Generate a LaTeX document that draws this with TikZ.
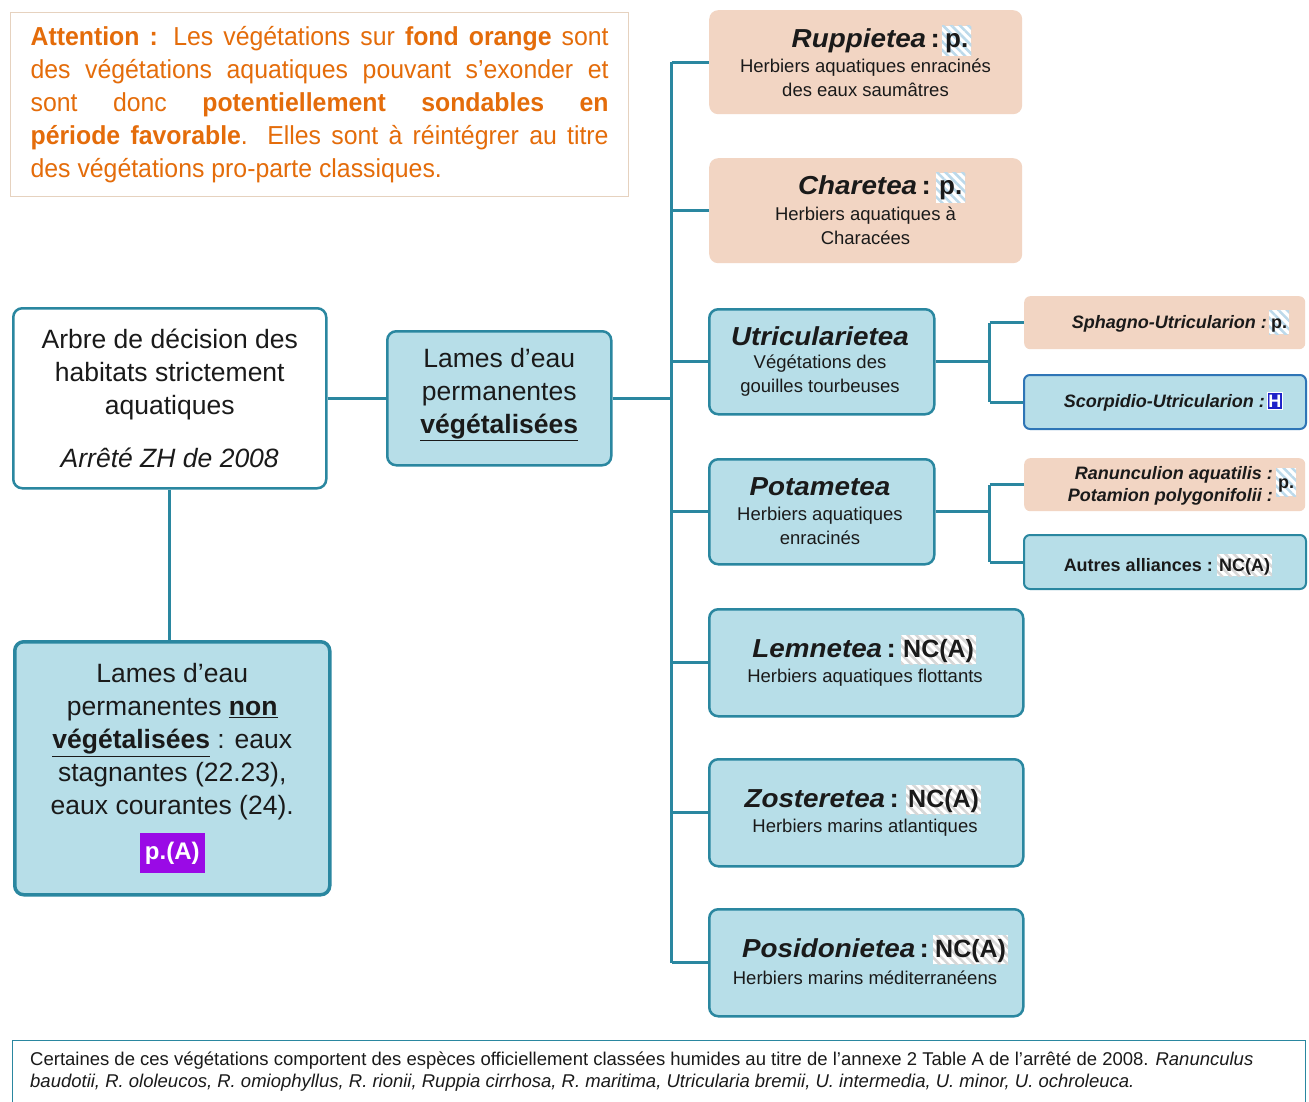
\documentclass[tikz,border=0pt]{standalone}
\usepackage{fontspec}
\setmainfont{Liberation Sans}
\newfontfamily\attfont[FakeStretch=0.955]{Liberation Sans}
\newfontfamily\ttlfont[FakeStretch=1.07]{Liberation Sans}
\usetikzlibrary{patterns.meta}
\definecolor{teal1}{HTML}{2A87A0}
\definecolor{lblue}{HTML}{B7DEE8}
\definecolor{peach}{HTML}{F2D5C3}
\definecolor{orng}{HTML}{E46C0A}
\definecolor{tanb}{HTML}{E6D2BF}
\definecolor{hatchb}{HTML}{BCD9EA}
\definecolor{hatchg}{HTML}{D6D6D6}
\definecolor{bluebd}{HTML}{2E75B6}
\definecolor{hblue}{HTML}{1E22C8}
\definecolor{purp}{HTML}{9A0AE6}
\definecolor{txt}{HTML}{1A1A1A}
\tikzset{
 box/.style={rounded corners=9pt, inner sep=0pt, anchor=north west},
 bluebox/.style={box, draw=teal1, line width=2.5pt, fill=lblue},
 peachbox/.style={box, fill=peach},
 conn/.style={draw=teal1, line width=3pt},
 ttl/.style={font=\ttlfont\fontsize{26}{30}\selectfont\bfseries\itshape, inner sep=0pt, text=txt},
 sttl/.style={font=\fontsize{18}{22}\selectfont\bfseries\itshape, inner sep=0pt, text=txt, align=right},
 sub/.style={font=\fontsize{18.5}{24}\selectfont, align=center, inner sep=0pt, text=txt},
 big/.style={font=\fontsize{26.5}{33}\selectfont, align=center, text=txt},
 hatchp/.style={fill=white, postaction={pattern={Lines[angle=-45,distance=6pt,line width=2.5pt]}, pattern color=hatchb}},
 hatchn/.style={fill=white, postaction={pattern={Lines[angle=-45,distance=6pt,line width=2.5pt]}, pattern color=hatchg}},
 pbig/.style={hatchp, font=\fontsize{26}{30}\selectfont\bfseries, text=txt, inner xsep=3pt, inner ysep=0pt, text height=22pt, text depth=8pt, anchor=base west},
 nbig/.style={hatchn, font=\fontsize{25}{30}\selectfont\bfseries, text=txt, inner xsep=2pt, inner ysep=0pt, text height=22pt, text depth=7pt, anchor=base west},
 psmall/.style={hatchp, font=\fontsize{18}{22}\selectfont\bfseries, text=txt, inner xsep=2pt, inner ysep=0pt, text height=18pt, text depth=6pt, anchor=base west},
 nsmall/.style={hatchn, font=\fontsize{18}{22}\selectfont\bfseries, text=txt, inner xsep=2pt, inner ysep=0pt, text height=17pt, text depth=5pt, anchor=base west},
}
\begin{document}
\begin{tikzpicture}[x=1pt,y=-1pt]
\useasboundingbox[fill=white] (0,0) rectangle (1309,1102);

% attention box
\node[draw=tanb, line width=1.2pt, fill=white, anchor=north west, minimum width=618pt, minimum height=184pt,
  text width=578pt, inner xsep=20pt, align=justify, text=orng,
  font=\attfont\fontsize{26}{33}\selectfont] (att) at (10,12)
 {\hyphenpenalty=10000\relax\exhyphenpenalty=10000\relax
 \textbf{Attention :} Les végétations sur \textbf{fond orange} sont\linebreak des végétations aquatiques pouvant s’exonder et\linebreak sont donc \textbf{potentiellement sondables en}\linebreak \textbf{période favorable}. Elles sont à réintégrer au titre\linebreak des végétations pro-parte classiques.};

% left nodes
\node[box, draw=teal1, line width=2.5pt, fill=white, minimum width=313pt, minimum height=180pt, big] (root) at (12,307)
 {Arbre de décision des\\habitats strictement\\aquatiques\\[20pt]\textit{Arrêté ZH de 2008}};
\node[bluebox, minimum width=224pt, minimum height=134pt, big] (veg) at (386,330)
 {Lames d’eau\\permanentes\\\underline{\textbf{végétalisées}}\rule[-15pt]{0pt}{15pt}};
\node[bluebox, line width=3.5pt, minimum width=315pt, minimum height=253pt, big] (nonveg) at (13,640)
 {Lames d’eau\\permanentes \underline{\textbf{non}}\\\underline{\textbf{végétalisées}} : eaux\\stagnantes (22.23),\\eaux courantes (24).\\[12pt]
 {\setlength{\fboxsep}{5pt}\colorbox{purp}{\textcolor{white}{\fontsize{24}{28}\selectfont\bfseries\rule[-8pt]{0pt}{30pt}p.(A)}}}};

% class boxes
\node[peachbox, minimum width=313pt, minimum height=104pt] (rup) at (709,10) {};
\node[peachbox, minimum width=313pt, minimum height=105pt] (cha) at (709,158) {};
\node[bluebox, minimum width=225pt, minimum height=105pt] (utr) at (708,308) {};
\node[bluebox, minimum width=225pt, minimum height=105pt] (pot) at (708,458) {};
\node[bluebox, minimum width=314pt, minimum height=107pt] (lem) at (708,608) {};
\node[bluebox, minimum width=314pt, minimum height=107pt] (zos) at (708,758) {};
\node[bluebox, minimum width=314pt, minimum height=107pt] (pos) at (708,908) {};

% alliance boxes
\node[peachbox, rounded corners=6pt, minimum width=281pt, minimum height=53pt] (sph) at (1024,296) {};
\node[box, rounded corners=6pt, draw=bluebd, line width=2pt, fill=lblue, minimum width=282pt, minimum height=54pt] (sco) at (1023,374) {};
\node[peachbox, rounded corners=6pt, minimum width=281pt, minimum height=53pt] (ran) at (1024,458) {};
\node[box, rounded corners=6pt, draw=teal1, line width=2pt, fill=lblue, minimum width=282pt, minimum height=54pt] (aut) at (1023,534) {};

% titles and badges
\node[ttl, anchor=base east] (rupT) at (940,48) {Ruppietea\,\upshape :};
\node[pbig] (rupB) at (942,48) {p.};
\node[sub] (rupS) at (865.5,78) {Herbiers aquatiques enracinés\\des eaux saumâtres};

\node[ttl, anchor=base east] (chaT) at (931,195) {Charetea\,\upshape :};
\node[pbig] (chaB) at (936,195) {p.};
\node[sub] (chaS) at (865.5,226) {Herbiers aquatiques à\\Characées};

\node[ttl, anchor=base] (utrT) at (820,345) {Utricularietea};
\node[sub] (utrS) at (820,376) {Végétations des\\gouilles tourbeuses};

\node[ttl, anchor=base] (potT) at (820,495) {Potametea};
\node[sub] (potS) at (820,526) {Herbiers aquatiques\\enracinés};

\node[ttl, anchor=base east] (lemT) at (896,657) {Lemnetea\,\upshape :};
\node[nbig] (lemB) at (901,657) {NC(A)};
\node[sub] (lemS) at (865,678) {Herbiers aquatiques flottants};

\node[ttl, anchor=base east] (zosT) at (899,807) {Zosteretea\,\upshape :};
\node[nbig] (zosB) at (906,807) {NC(A)};
\node[sub] (zosS) at (865,828) {Herbiers marins atlantiques};

\node[ttl, anchor=base east] (posT) at (929,957) {Posidonietea\,\upshape :};
\node[nbig] (posB) at (933,957) {NC(A)};
\node[sub] (posS) at (865,978) {Herbiers marins méditerranéens};

\node[sttl, anchor=base east] (sphT) at (1267,328) {Sphagno-Utricularion :};
\node[psmall] (sphB) at (1269,328) {p.};

\node[sttl, anchor=base east] (scoT) at (1265,407) {Scorpidio-Utricularion :};
\node[font=\fontsize{18}{22}\selectfont\bfseries, text=white, fill=hblue, draw=white, line width=0.6pt, inner xsep=1pt, inner ysep=0pt, text height=15pt, text depth=2pt, anchor=base west] (scoB) at (1267,407) {H};

\node[sttl, anchor=east] (ranT) at (1273,486) {Ranunculion aquatilis :\\Potamion polygonifolii :};
\node[psmall, anchor=north west, text height=20pt, text depth=8pt] (ranB) at (1276,468) {p.};

\node[font=\fontsize{18}{22}\selectfont\bfseries, text=txt, inner sep=0pt, anchor=base east] (autT) at (1213,571) {Autres alliances :};
\node[nsmall] (autB) at (1217,571) {NC(A)};

% connectors
\draw[conn] (root.east |- veg.west) -- (veg.west);
\draw[conn] (root.south) -- (nonveg.north -| root.south);
\path (veg.east) ++(59,0) coordinate (tk);
\draw[conn] (veg.east) -- (tk);
\draw[conn] (tk |- rup.west) -- (tk |- pos.west);
\foreach \n in {rup,cha,utr,pot,lem,zos,pos} \draw[conn] (tk |- \n.west) -- (\n.west);
\path (utr.east) ++(54,0) coordinate (ku);
\draw[conn] (utr.east) -- (ku);
\draw[conn] (ku |- sph.west) -- (ku |- sco.west);
\draw[conn] (ku |- sph.west) -- (sph.west);
\draw[conn] (ku |- sco.west) -- (sco.west);
\path (pot.east) ++(54,0) coordinate (kp);
\draw[conn] (pot.east) -- (kp);
\draw[conn] (kp |- ran.west) -- (kp |- aut.west);
\draw[conn] (kp |- ran.west) -- (ran.west);
\draw[conn] (kp |- aut.west) -- (aut.west);

% footer
\node[draw=teal1, line width=1pt, fill=white, anchor=north west, minimum width=1293pt, minimum height=80pt, inner sep=0pt] (foot) at (12,1040) {};
\node[anchor=north west, align=left, inner sep=0pt, text=txt, font=\fontsize{18.5}{22}\selectfont] (footT) at (30,1052)
 {Certaines de ces végétations comportent des espèces officiellement classées humides au titre de l’annexe 2 Table A de l’arrêté de 2008. \textit{Ranunculus}\\
 \textit{baudotii, R. ololeucos, R. omiophyllus, R. rionii, Ruppia cirrhosa, R. maritima, Utricularia bremii, U. intermedia, U. minor, U. ochroleuca.}};
\end{tikzpicture}
\end{document}
